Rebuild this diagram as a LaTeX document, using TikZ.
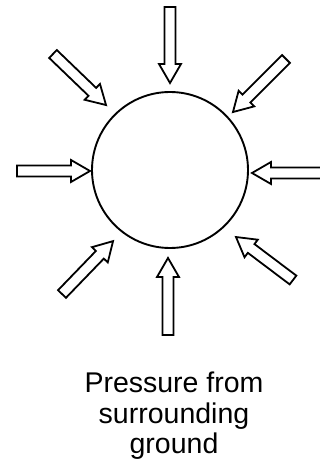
\documentclass[tikz,border=0pt]{standalone}
\usepackage{fontspec}
\setmainfont{Liberation Sans}
\newcommand\blkarrow[4]{%
  \begin{scope}[shift={(#1,#2)},rotate=#3]
    \draw[blk] (0,-5.5) -- ({#4-19},-5.5) -- ({#4-19},-11) -- (#4,0)
      -- ({#4-19},11) -- ({#4-19},5.5) -- (0,5.5) -- cycle;
  \end{scope}}
\begin{document}
\begin{tikzpicture}[x=1pt,y=1pt,
  blk/.style={draw=black,line width=1.8pt,line join=miter,fill=white},
  ring/.style={draw=black,line width=1.9pt,circle,inner sep=0pt,minimum size=156pt}]
\useasboundingbox (0,0) rectangle (320,474);
\node[ring] (c) at (170,304) {};
% top
\blkarrow{170}{467}{-90}{76}
% bottom
\blkarrow{168}{139}{90}{77}
% left
\blkarrow{17}{303}{0}{73}
% right
\blkarrow{325}{301}{180}{73}
% top-left
\blkarrow{53}{420}{-43.9}{73.6}
% top-right
\blkarrow{286}{415}{-135}{75}
% bottom-left
\blkarrow{62}{180}{46}{73.5}
% bottom-right
\blkarrow{293}{194}{143}{71.4}
\node[anchor=base,align=center,inner sep=0pt,
  font=\fontsize{28.5}{30.5}\selectfont] (lbl) at (174,20)
  {Pressure from\\surrounding\\ground};
\end{tikzpicture}
\end{document}
